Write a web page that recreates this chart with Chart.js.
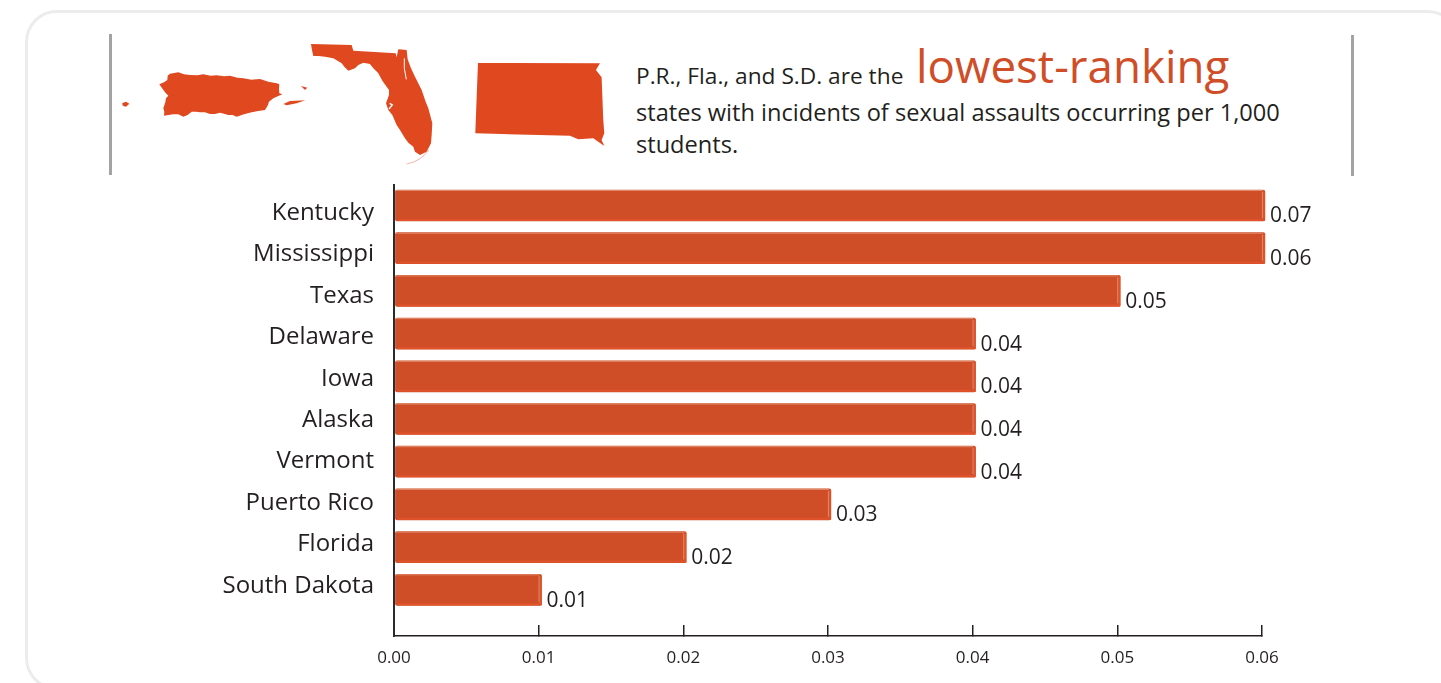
<!DOCTYPE html>
<html>
<head>
<meta charset="utf-8">
<style>
  html, body { margin: 0; padding: 0; background: #fff; overflow: hidden; }
  #page { position: relative; width: 1441px; height: 683px; overflow: hidden; font-family: "Open Sans", sans-serif; color: #231f20; }
  #card { position: absolute; left: 25px; top: 10px; width: 1435px; height: 680px; border: 3px solid #ececec; border-radius: 32px; box-sizing: border-box; }
  .rule { position: absolute; width: 3px; top: 34px; height: 141px; background: #a3a3a5; }
  #maps { position: absolute; left: 0; top: 0; }
  .head { position: absolute; white-space: nowrap; }
  #wrap { position: absolute; left: 0; top: 0; width: 1441px; height: 683px; }
</style>
</head>
<body>
<div id="page">
  <div id="card"></div>
  <div class="rule" style="left:109px"></div>
  <div class="rule" style="left:1351px;top:35px"></div>
  <svg id="maps" width="1441" height="683">
    <!-- Puerto Rico -->
    <g transform="translate(120 65) scale(.3333)" fill="#e0481f">
      <polygon points="118,58 132,52 142,45 143,32 150,26 175,22 192,28 210,30 232,31 250,28 272,32 290,31 312,34 330,32 352,38 370,40 395,44 420,42 445,50 470,55 478,58 477,72 478,85 487,88 470,95 460,100 447,110 443,122 435,135 415,138 395,142 372,148 350,155 338,150 325,150 312,146 300,143 285,147 270,147 255,142 240,142 228,140 215,140 203,150 190,155 175,148 160,148 145,150 132,152 133,140 130,130 136,112 138,100 145,92 135,82 128,72"/>
      <polygon points="490,117 510,108 556,106 530,115 500,121"/>
      <polygon points="543,63 562,68 555,75"/>
      <polygon points="7,114 18,110 28,116 18,125 8,122"/>
    </g>
    <!-- Florida -->
    <g transform="translate(305 40) scale(.3333)" fill="#e0481f">
      <polygon points="18,12 140,15 145,32 272,40 275,52 280,28 305,30 308,58 318,85 330,110 350,150 362,185 370,205 382,250 380,285 378,310 365,335 345,345 330,335 325,320 310,308 300,295 285,270 275,255 262,225 250,210 243,190 252,165 252,150 232,122 220,100 205,85 195,72 175,68 160,75 150,85 130,92 118,80 110,70 85,55 60,50 40,48 25,48 22,35 20,25"/>
      <path d="M298,55 L298,85 L304,118" fill="none" stroke="#fff" stroke-width="3"/>
      <path d="M254,190 L262,195 L252,207" fill="none" stroke="#fff" stroke-width="4"/>
      <path d="M305,372 Q345,365 372,330" fill="none" stroke="#e0481f" stroke-width="2" opacity=".6"/>
    </g>
    <!-- South Dakota -->
    <g transform="translate(100 20) scale(.3333)" fill="#e0481f">
      <polygon points="1134,129 1500,130 1488,150 1505,172 1510,300 1513,340 1505,360 1513,378 1480,355 1435,358 1410,347 1126,340"/>
    </g>
  </svg>
  <div class="head" style="left:636px;top:60px;font-size:22.7px">P.R., Fla., and S.D. are the</div>
  <div class="head" style="left:916px;top:34px;font-size:45.7px;color:#cf4e28">lowest-ranking</div>
  <div class="head" style="left:636px;top:96px;font-size:23.6px">states with incidents of sexual assaults occurring per 1,000</div>
  <div class="head" style="left:636px;top:128px;font-size:23.6px">students.</div>
  <div id="wrap"><canvas id="chart" width="1441" height="683"></canvas></div>
</div>
<script src="https://cdn.jsdelivr.net/npm/chart.js@4"></script>
<script>
const states = ["Kentucky", "Mississippi", "Texas", "Delaware", "Iowa", "Alaska", "Vermont", "Puerto Rico", "Florida", "South Dakota"];
// bar lengths as drawn in the picture, the printed labels are not always the same
const barValues = [0.0602, 0.0602, 0.0502, 0.0402, 0.0402, 0.0402, 0.0402, 0.0302, 0.0202, 0.0102];
const valueLabels = ["0.07", "0.06", "0.05", "0.04", "0.04", "0.04", "0.04", "0.03", "0.02", "0.01"];
const xTicks = [0, 0.01, 0.02, 0.03, 0.04, 0.05, 0.06];

const FONT = '"Open Sans", sans-serif';
const INK = "#231f20";

// bevel strips and printed values on every bar
const barDecor = {
  id: "barDecor",
  afterDatasetsDraw(chart) {
    const ctx = chart.ctx;
    chart.getDatasetMeta(0).data.forEach((bar, i) => {
      const top = bar.y - bar.height / 2;
      const bottom = bar.y + bar.height / 2;
      ctx.save();
      ctx.fillStyle = "#e0532a";
      ctx.fillRect(bar.base + 2, bottom - 2, bar.x - bar.base - 2, 2);
      ctx.fillRect(bar.x - 2, top + 1, 2, bar.height - 1);
      ctx.fillStyle = "#e08a6a";
      ctx.fillRect(bar.base, top, bar.x - bar.base - 2, 1);
      ctx.fillRect(bar.x - 3, top + 2, 1, bar.height - 5);
      ctx.fillStyle = INK;
      ctx.font = "21px " + FONT;
      ctx.textAlign = "left";
      ctx.textBaseline = "middle";
      ctx.fillText(valueLabels[i], bar.x + 5, bar.y + 11);
      ctx.restore();
    });
  }
};

new Chart(document.getElementById("chart"), {
  type: "bar",
  data: {
    datasets: [{
      data: barValues.map((v, i) => ({ x: v, y: i })),
      backgroundColor: "#cf4e28",
      base: 0.0001,
      barThickness: 31,
      borderRadius: 2,
      borderSkipped: false,
      clip: false,
      xAxisID: "x",
      yAxisID: "y"
    }]
  },
  options: {
    indexAxis: "y",
    responsive: false,
    animation: false,
    layout: { padding: { top: 185, right: 179, bottom: 0, left: 0 } },
    plugins: { legend: { display: false }, tooltip: { enabled: false } },
    scales: {
      x: {
        type: "linear",
        min: 0,
        max: 0.06,
        afterFit(scale) { scale.height = 47; },
        afterBuildTicks(scale) { scale.ticks = xTicks.map(v => ({ value: v })); },
        // ticks stand up from the axis, inside the plot
        grid: { drawOnChartArea: false, drawTicks: true, tickLength: -11, color: INK, lineWidth: 1.5 },
        border: { display: true, color: INK, width: 1.5 },
        ticks: { maxRotation: 0, padding: 23, color: INK, font: { family: FONT, size: 17 }, callback: v => v.toFixed(2) }
      },
      // places the bars
      y: {
        type: "linear",
        display: false,
        offset: false,
        reverse: true,
        min: (185 - 205.5) / 42.7,
        max: (636 - 205.5) / 42.7
      },
      // the state names sit on a slightly tighter spacing than the bars
      names: {
        type: "linear",
        position: "left",
        offset: false,
        reverse: true,
        min: (185 - 213) / 41.44,
        max: (636 - 213) / 41.44,
        afterFit(scale) { scale.width = 394; },
        afterBuildTicks(scale) { scale.ticks = states.map((s, i) => ({ value: i })); },
        grid: { display: false, drawTicks: false },
        border: { display: true, color: "#2b2b2d", width: 2 },
        ticks: {
          padding: 20,
          color: INK,
          autoSkip: false,
          font: { family: FONT, size: 24 },
          callback: v => states[v]
        }
      }
    }
  },
  plugins: [barDecor]
});
</script>
</body>
</html>
